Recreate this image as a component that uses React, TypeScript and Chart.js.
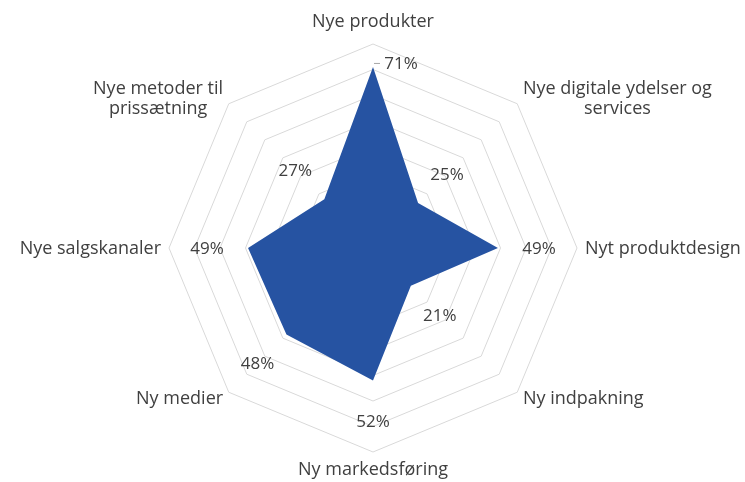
import { useEffect, useRef } from "react";
import { Chart, registerables } from "chart.js";

Chart.register(...registerables);

const categories: string[][] = [
  ["Nye produkter"],
  ["Nye digitale ydelser og", "services"],
  ["Nyt produktdesign"],
  ["Ny indpakning"],
  ["Ny markedsføring"],
  ["Ny medier"],
  ["Nye salgskanaler"],
  ["Nye metoder til", "prissætning"],
];
const values = [71, 25, 49, 21, 52, 48, 49, 27];
const axisMin = 0;
const axisMax = 80;
const axisStep = 10;

const FONT = '"Open Sans", "Noto Sans", sans-serif';
const TEXT = "#404040";

const labelPlugin = {
  id: "customLabels",
  afterDraw(chart: any) {
    const scale = chart.scales.r;
    const ctx = chart.ctx as CanvasRenderingContext2D;
    const n = categories.length;
    ctx.save();
    // category labels
    ctx.fillStyle = TEXT;
    ctx.font = "18px " + FONT;
    ctx.textBaseline = "middle";
    ctx.textAlign = "center";
    const lh = 20;
    categories.forEach((lines, i) => {
      const a = (i / n) * Math.PI * 2;
      const s = Math.sin(a);
      const c = Math.cos(a);
      const p = scale.getPointPosition(i, scale.drawingArea + 8);
      const bw = Math.max(...lines.map((l) => ctx.measureText(l).width));
      const bh = lines.length * lh;
      let cx = p.x;
      if (s > 0.01) cx = p.x + bw / 2;
      else if (s < -0.01) cx = p.x - bw / 2;
      let cy = p.y + 1;
      if (Math.abs(s) < 0.01) {
        cy = c > 0 ? p.y - bh / 2 - 4 : p.y + bh / 2;
      }
      lines.forEach((l, k) => {
        ctx.fillText(l, cx, cy - bh / 2 + lh / 2 + k * lh);
      });
    });
    // value labels
    ctx.font = "17px " + FONT;
    values.forEach((v, i) => {
      const r = scale.getDistanceFromCenterForValue(v);
      const txt = v + "%";
      if (i === 0) {
        const p = scale.getPointPosition(i, r);
        ctx.strokeStyle = "#a6a6a6";
        ctx.lineWidth = 1;
        ctx.beginPath();
        ctx.moveTo(p.x + 1, p.y - 3.5);
        ctx.lineTo(p.x + 7, p.y - 3.5);
        ctx.stroke();
        ctx.fillText(txt, p.x + 28, p.y - 3);
      } else {
        const p = scale.getPointPosition(i, r + 41);
        ctx.fillText(txt, p.x, p.y + 1);
      }
    });
    ctx.restore();
  },
};

export default function App() {
  const ref = useRef<HTMLCanvasElement | null>(null);
  useEffect(() => {
    document.body.style.margin = "0";
    const canvas = ref.current;
    if (!canvas) return;
    const chart = new Chart(canvas, {
      type: "radar",
      data: {
        labels: categories,
        datasets: [
          {
            data: values,
            backgroundColor: "#2653A2",
            borderColor: "#2653A2",
            borderWidth: 0,
            fill: true,
            pointRadius: 0,
            pointHoverRadius: 0,
          },
        ],
      },
      options: {
        responsive: false,
        animation: false,
        layout: { padding: { left: 169, right: 167, top: 44, bottom: 30 } },
        plugins: { legend: { display: false }, tooltip: { enabled: false } },
        scales: {
          r: {
            min: axisMin,
            max: axisMax,
            ticks: { stepSize: axisStep, display: false },
            grid: { color: "#d9d9d9", lineWidth: 1, circular: false },
            angleLines: { display: false },
            pointLabels: { display: false },
          },
        },
      },
      plugins: [labelPlugin],
    });
    return () => chart.destroy();
  }, []);
  return (
    <div style={{ position: "absolute", left: 0, top: 0, width: 745, height: 482, background: "#fff" }}>
      <canvas ref={ref} width={745} height={482} />
    </div>
  );
}
